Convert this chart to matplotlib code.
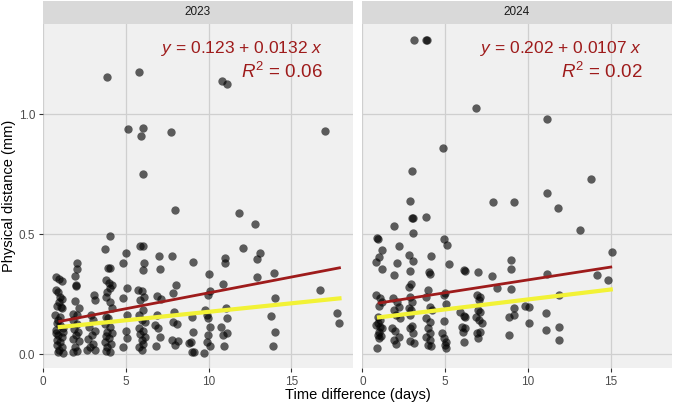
import numpy as np
import matplotlib
matplotlib.use("Agg")
import matplotlib.pyplot as plt

plt.rcParams['font.family'] = ['Liberation Sans', 'DejaVu Sans']
plt.rcParams['mathtext.fontset'] = 'custom'
plt.rcParams['mathtext.rm'] = 'Liberation Sans'
plt.rcParams['mathtext.it'] = 'Liberation Sans:italic'

# data
years = ["2023", "2024"]

days_2023 = [0.77, 0.97, 1.14, 0.77, 0.91, 1.01, 1.12, 0.97, 0.81, 1.07, 1.16, 0.81, 1.01, 0.77, 0.91,
             1.12, 0.85, 1.01, 0.81, 1.12, 0.97, 0.91, 1.18, 0.71, 1.01, 0.91, 1.18, 0.77, 1.22,
             2.02, 2.06, 1.92, 1.98, 1.98, 1.92, 2.18, 1.82, 2.02, 1.78, 2.06, 1.86, 2.12, 1.98, 1.82,
             2.18, 1.92, 2.06, 1.82,
             3.07, 3.13, 2.86, 2.99, 2.79, 3.13, 2.93, 2.73, 3.03, 2.83, 3.13, 2.67,
             4.03, 3.75, 3.89, 4.03, 3.79, 3.99, 4.14, 3.83, 4.03, 3.79, 4.03, 4.14, 3.79, 3.93, 3.73,
             4.03, 3.83, 4.14, 3.79, 3.99, 3.73, 4.09, 3.87, 3.79, 4.03, 3.86,
             4.98, 4.84, 5.04, 4.80, 5.08, 5.00, 5.08, 4.80, 5.10,
             5.85, 6.01, 6.09, 6.01, 5.75, 5.95, 6.09, 5.85, 6.05, 5.81, 5.95, 6.15, 5.81, 6.05, 5.85,
             6.15, 5.95, 6.05, 5.81, 5.95, 5.77, 6.00, 5.93, 6.03,
             7.01, 7.05, 6.85, 7.09, 6.85, 6.75, 6.95, 7.05, 6.79, 7.74,
             7.96, 7.76, 8.02, 7.86, 7.90, 7.82, 8.10, 7.76, 7.96, 8.16,
             9.07, 8.97, 9.03, 8.90, 8.97, 9.11, 8.82,
             10.01, 10.07, 9.97, 9.77, 9.87, 9.97, 10.07, 9.97, 9.87, 10.07, 9.71,
             10.98, 10.98, 10.84, 11.04, 11.08, 10.72, 10.88, 11.08, 10.92, 10.80, 11.08,
             11.84, 12.08, 12.79, 13.09, 12.93, 12.89,
             13.94, 14.00, 13.76, 14.00, 13.86, 16.75, 17.00, 17.76, 17.88]
dist_2023 = [0.319, 0.3125, 0.306, 0.267, 0.26, 0.239, 0.228, 0.218, 0.2, 0.197, 0.19, 0.128, 0.121, 0.086, 0.079,
             0.072, 0.058, 0.051, 0.0375, 0.03, 0.017, 0.01, 0.006, 0.1625, 0.155, 0.142, 0.107, 0.1, 0.093,
             0.381, 0.354, 0.325, 0.283, 0.287, 0.222, 0.194, 0.169, 0.1625, 0.142, 0.125, 0.103, 0.093, 0.079, 0.061,
             0.056, 0.03, 0.014, 0.01,
             0.246, 0.225, 0.1625, 0.142, 0.114, 0.097, 0.079, 0.061, 0.042, 0.03, 0.019, 0.017,
             0.49, 0.436, 0.36, 0.36, 0.308, 0.297, 0.2875, 0.26, 0.274, 0.239, 0.218, 0.19, 0.156, 0.149, 0.125,
             0.114, 0.093, 0.089, 0.075, 0.065, 0.051, 0.042, 0.03, 0.014, 0.01, 1.155,
             0.419, 0.381, 0.274, 0.232, 0.1625, 0.097, 0.065, 0.028, 0.9375,
             0.45, 0.45, 0.381, 0.35, 0.269, 0.264, 0.239, 0.225, 0.183, 0.1625, 0.142, 0.135, 0.107, 0.097, 0.083,
             0.072, 0.058, 0.044, 0.03, 0.019, 1.176, 0.943, 0.91, 0.751,
             0.408, 0.353, 0.242, 0.228, 0.1625, 0.121, 0.107, 0.072, 0.033, 0.925,
             0.6, 0.408, 0.2875, 0.253, 0.176, 0.135, 0.125, 0.058, 0.0375, 0.056,
             0.385, 0.156, 0.093, 0.051, 0.01, 0.01, 0.047,
             0.333, 0.264, 0.246, 0.183, 0.1625, 0.149, 0.114, 0.079, 0.051, 0.033, 0.006,
             0.399, 0.381, 0.292, 0.194, 0.149, 0.111, 0.079, 0.086, 0.033, 1.137, 1.124,
             0.586, 0.443, 0.542, 0.422, 0.394, 0.319,
             0.339, 0.232, 0.158, 0.093, 0.035, 0.267, 0.93, 0.17, 0.13]

days_2024 = [0.90, 0.94, 1.17, 0.97, 0.83, 1.17, 0.83, 1.03, 1.17, 0.91, 1.07, 0.83, 1.03, 0.91, 1.11,
             0.87, 0.97, 1.17, 1.00, 0.95, 1.00,
             1.88, 2.18, 2.08, 1.92, 1.83, 2.08, 2.18, 1.92, 2.04, 2.24, 1.78, 1.98, 2.18, 1.88, 2.04,
             2.84, 2.99, 3.00, 3.08, 3.08, 2.82, 3.05, 2.88, 2.92, 2.82, 2.88, 2.99, 2.78, 2.94, 2.84,
             2.99, 2.84, 3.05, 2.88, 3.13, 3.13, 3.85, 3.87,
             3.85, 4.13, 3.99, 4.05, 3.93, 3.85, 4.09, 4.19, 3.85, 4.05, 3.93, 4.09, 3.85, 4.05, 3.93, 4.13,
             4.84, 4.94, 5.10, 5.20, 5.00, 4.90, 5.06, 4.94, 4.82, 4.94, 5.06, 5.00, 5.06,
             6.15, 5.91, 6.11, 6.01, 6.15, 6.07, 6.20, 6.20, 6.20,
             6.88, 6.96, 6.92, 7.12, 7.02, 6.96, 7.12, 6.88, 7.02, 7.22, 6.92, 7.12, 7.00,
             7.90, 7.83, 8.10,
             9.18, 8.98, 8.98, 8.98, 9.13, 9.13, 8.83, 8.83,
             9.82, 10.07, 10.08,
             11.15, 11.17, 11.13, 11.07, 11.07,
             11.84, 11.88, 11.88, 11.88, 13.13, 13.80, 14.14, 14.82, 15.09]
dist_2024 = [0.482, 0.478, 0.433, 0.406, 0.382, 0.353, 0.246, 0.232, 0.218, 0.156, 0.142, 0.121, 0.114, 0.079, 0.075,
             0.024, 0.093, 0.107, 0.065, 0.128, 0.2,
             0.535, 0.451, 0.381, 0.329, 0.232, 0.218, 0.197, 0.183, 0.1625, 0.149, 0.107, 0.097, 0.072, 0.058, 0.044,
             0.639, 0.7625, 0.565, 0.565, 0.506, 0.4125, 0.389, 0.346, 0.294, 0.28, 0.239, 0.218, 0.194, 0.183, 0.1625,
             0.117, 0.107, 0.086, 0.056, 0.047, 1.308, 1.308, 1.308,
             0.569, 0.408, 0.343, 0.333, 0.267, 0.239, 0.197, 0.183, 0.149, 0.135, 0.107, 0.086, 0.072, 0.058, 0.0375, 0.033,
             0.857, 0.478, 0.454, 0.374, 0.256, 0.246, 0.208, 0.139, 0.086, 0.065, 0.051, 0.0375, 0.024,
             0.35, 0.176, 0.158, 0.114, 0.051, 0.093, 0.347, 0.156, 0.107,
             1.024, 0.343, 0.246, 0.239, 0.225, 0.183, 0.176, 0.156, 0.142, 0.128, 0.086, 0.093, 0.065,
             0.635, 0.325, 0.274,
             0.635, 0.39, 0.355, 0.27, 0.19, 0.1625, 0.153, 0.079,
             0.2, 0.197, 0.129,
             0.979, 0.67, 0.332, 0.172, 0.1,
             0.61, 0.245, 0.114, 0.058, 0.515, 0.73, 0.33, 0.308, 0.426]

# linear fit shown in the labels
intercepts = [0.123, 0.202]
slopes = [0.0132, 0.0107]
fit_range = [[1.0, 17.9], [1.0, 15.0]]
r2_labels = ["0.06", "0.02"]
eq_labels = ["0.123 + 0.0132", "0.202 + 0.0107"]
# second (yellow) trend line endpoints
yellow_x = [[1.0, 17.9], [1.0, 15.0]]
yellow_y = [[0.1125, 0.232], [0.153, 0.269]]

days = [days_2023, days_2024]
dist = [dist_2023, dist_2024]

red = '#9e1b1b'
fig = plt.figure(figsize=(6.75, 4.05), dpi=100)
lefts = [42.7 / 675, 362 / 675]
w = 310 / 675
b = 37 / 405
h = 344 / 405

for i in range(2):
    ax = fig.add_axes([lefts[i], b, w, h])
    ax.set_facecolor('#f0f0f0')
    ax.set_xlim(-0.03, 18.7)
    ax.set_ylim(-0.058, 1.375)
    ax.set_xticks([0, 5, 10, 15])
    ax.set_yticks([0.0, 0.5, 1.0])
    ax.grid(True, color='#cfcfcf', linewidth=0.9)
    ax.set_axisbelow(True)
    for s in ax.spines.values():
        s.set_visible(False)
    ax.tick_params(colors='#333333', labelcolor='#4d4d4d', labelsize=8.5, length=3, width=0.8, pad=2.5)
    if i == 0:
        ax.set_yticklabels(['0.0', '0.5', '1.0'])
    else:
        ax.tick_params(axis='y', left=False, labelleft=False)

    ax.scatter(days[i], dist[i], s=36, color='black', alpha=0.62, linewidths=0, zorder=2)

    xs = np.array(fit_range[i])
    ax.plot(xs, intercepts[i] + slopes[i] * xs, color=red, linewidth=2.0, zorder=3)
    ax.plot(yellow_x[i], yellow_y[i], color='#f2f236', linewidth=3.0, zorder=3)

    ax.text(16.9, 1.253, r'$y$ = ' + eq_labels[i] + r' $x$', ha='right', va='baseline',
            color=red, fontsize=12.5)
    ax.text(16.9, 1.152, r'$R^2$ = ' + r2_labels[i], ha='right', va='baseline',
            color=red, fontsize=13.5)

    # facet strip
    sax = fig.add_axes([lefts[i], 1 - 23.5 / 405, w, 22.5 / 405])
    sax.set_facecolor('#d9d9d9')
    sax.set_xticks([])
    sax.set_yticks([])
    for s in sax.spines.values():
        s.set_visible(False)
    sax.text(0.5, 0.5, years[i], ha='center', va='center', fontsize=8.5, color='#1a1a1a')

fig.text(0.014, b + h / 2, 'Physical distance (mm)', rotation=90, ha='center', va='center', fontsize=10.5)
fig.text(0.53, 0.024, 'Time difference (days)', ha='center', va='center', fontsize=10.5)

fig.savefig('out.png', dpi=100)
